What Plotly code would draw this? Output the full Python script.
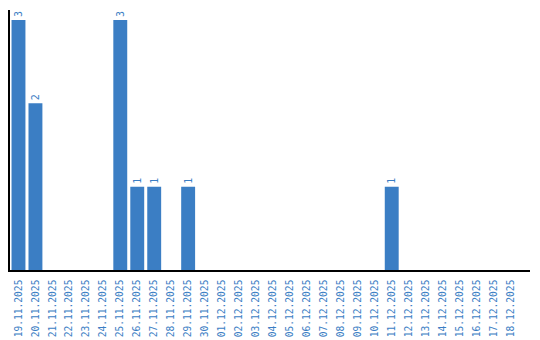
import plotly.graph_objects as go

dates = ["19.11.2025", "20.11.2025", "21.11.2025", "22.11.2025", "23.11.2025",
         "24.11.2025", "25.11.2025", "26.11.2025", "27.11.2025", "28.11.2025",
         "29.11.2025", "30.11.2025", "01.12.2025", "02.12.2025", "03.12.2025",
         "04.12.2025", "05.12.2025", "06.12.2025", "07.12.2025", "08.12.2025",
         "09.12.2025", "10.12.2025", "11.12.2025", "12.12.2025", "13.12.2025",
         "14.12.2025", "15.12.2025", "16.12.2025", "17.12.2025", "18.12.2025"]
counts = [3, 2, 0, 0, 0, 0, 3, 1, 1, 0, 1, 0, 0, 0, 0, 0, 0, 0, 0, 0,
          0, 0, 1, 0, 0, 0, 0, 0, 0, 0]
labels = [str(v) if v else "" for v in counts]

blue = "#3b7ec4"
font = "DejaVu Sans Mono"

fig = go.Figure(go.Bar(
    x=dates, y=counts, text=labels, textposition="outside", textangle=-90,
    textfont=dict(family=font, size=10, color=blue),
    marker=dict(color=blue, line=dict(width=0)), cliponaxis=False,
))
fig.update_layout(
    width=540, height=340, margin=dict(l=10, r=10, t=10, b=70),
    plot_bgcolor="white", paper_bgcolor="white", bargap=0.18,
    showlegend=False, uniformtext=dict(minsize=10, mode="show"),
)
fig.update_xaxes(type="category", range=[-0.5, 30.15], tickangle=-90, showline=True,
                 linecolor="black", linewidth=1.5, ticks="", showgrid=False,
                 automargin=False, ticklabelstandoff=4,
                 tickfont=dict(family=font, size=9.6, color=blue))
fig.update_yaxes(range=[0, 3.12], showline=True, linecolor="black", linewidth=1.5,
                 showticklabels=False, ticks="", showgrid=False, zeroline=False,
                 automargin=False)
fig.write_html("out.html")
